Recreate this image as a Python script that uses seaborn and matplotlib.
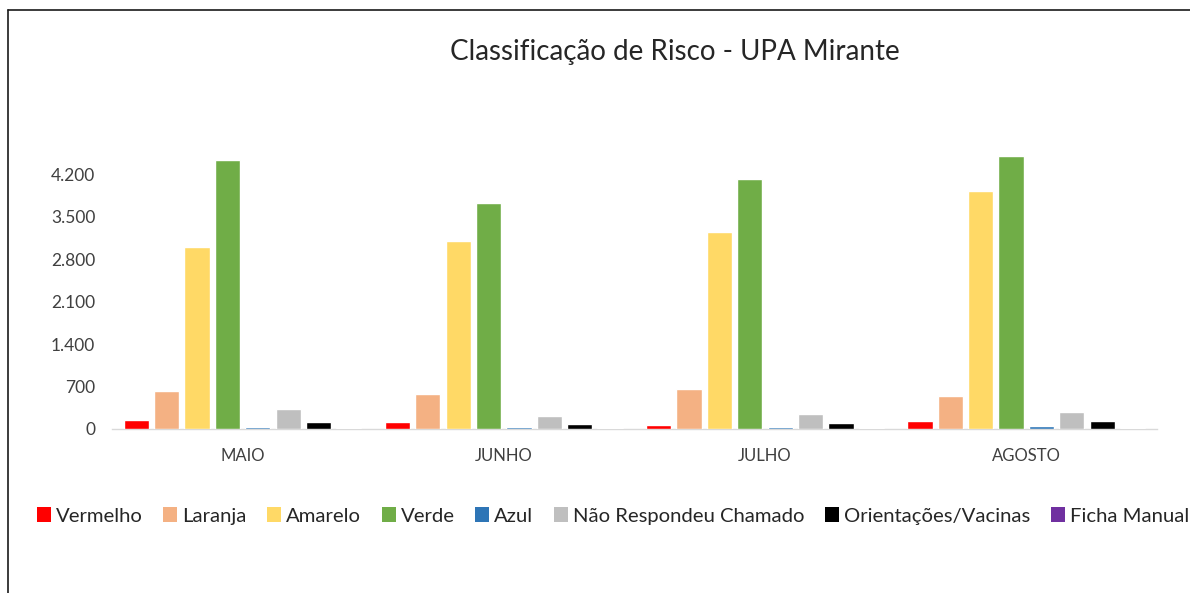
import matplotlib.pyplot as plt
import pandas as pd
import seaborn as sns
from matplotlib.patches import Patch
from matplotlib.lines import Line2D
from matplotlib.ticker import FuncFormatter

meses = ['MAIO', 'JUNHO', 'JULHO', 'AGOSTO']
categorias = ['Vermelho', 'Laranja', 'Amarelo', 'Verde', 'Azul',
              'Não Respondeu Chamado', 'Orientações/Vacinas', 'Ficha Manual']
cores = ['#FF0000', '#F4B183', '#FFD966', '#70AD47', '#2E75B6',
         '#BFBFBF', '#000000', '#7030A0']

maio = [153, 632, 3010, 4440, 25, 335, 115, 20]
junho = [120, 582, 3100, 3730, 40, 208, 83, 20]
julho = [60, 653, 3250, 4125, 25, 247, 99, 22]
agosto = [137, 544, 3927, 4505, 55, 285, 137, 20]
yticks = [0, 700, 1400, 2100, 2800, 3500, 4200]

rows = []
for mes, vals in zip(meses, [maio, junho, julho, agosto]):
    for cat, v in zip(categorias, vals):
        rows.append({'mes': mes, 'categoria': cat, 'valor': v})
df = pd.DataFrame(rows)

sns.set_theme(style="white")
plt.rcParams['font.family'] = ['Lato', 'DejaVu Sans']

fig = plt.figure(figsize=(11.9, 5.93), dpi=100)
ax = fig.add_axes([0.0941, 0.2766, 0.878, 0.5008])

sns.barplot(data=df, x='mes', y='valor', hue='categoria', order=meses,
            hue_order=categorias, palette=cores, width=0.93, gap=0.17,
            saturation=1, legend=False, ax=ax)

ax.set_ylim(0, 4900)
ax.set_xlim(-0.5, 3.5)
ax.set_yticks(yticks)
ax.yaxis.set_major_formatter(FuncFormatter(lambda v, p: f'{int(v):,}'.replace(',', '.')))
ax.tick_params(axis='y', length=0, pad=12, labelsize=12.5, labelcolor='#404040')
ax.tick_params(axis='x', length=0, pad=14, labelsize=12, labelcolor='#404040')
ax.set_xlabel('')
ax.set_ylabel('')
for s in ['top', 'right', 'left']:
    ax.spines[s].set_visible(False)
ax.spines['bottom'].set_color('#D9D9D9')
ax.spines['bottom'].set_linewidth(1)
ax.spines['bottom'].set_zorder(0.5)

fig.text(0.567, 0.912, 'Classificação de Risco - UPA Mirante', ha='center',
         va='center', fontsize=20, color='#262626')

handles = [Patch(facecolor=c, edgecolor='none') for c in cores]
fig.legend(handles, categorias, loc='center', bbox_to_anchor=(0.515, 0.13),
           ncol=8, frameon=False, fontsize=14.6, handlelength=0.7,
           handleheight=0.7, handletextpad=0.25, columnspacing=1.0,
           labelcolor='#262626')

# moldura do grafico (so topo e lado esquerdo aparecem)
x0 = 8 / 1190
y0 = (593 - 10) / 593
fig.add_artist(Line2D([x0, 1], [y0, y0], transform=fig.transFigure,
                      color='#1a1a1a', linewidth=1.2))
fig.add_artist(Line2D([x0, x0], [0, y0], transform=fig.transFigure,
                      color='#1a1a1a', linewidth=1.2))

fig.savefig('out.png', dpi=100)
